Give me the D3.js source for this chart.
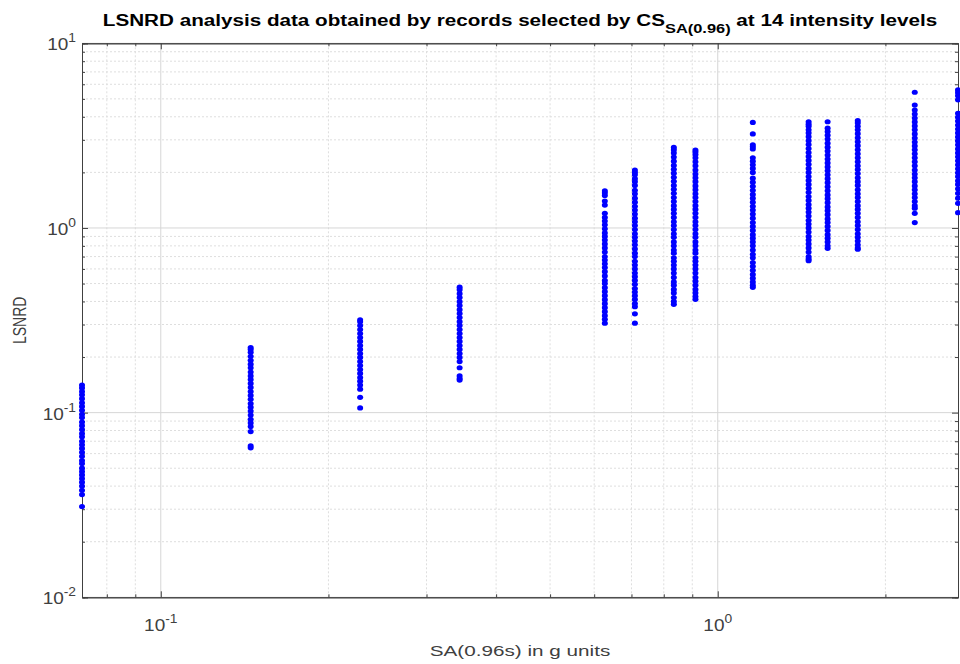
<!DOCTYPE html>
<html>
<head>
<meta charset="utf-8">
<script src="https://cdn.jsdelivr.net/npm/d3@7"></script>
<style>
body { margin: 0; background: #fff; }
text { font-family: "Liberation Sans", Arial, sans-serif; }
</style>
</head>
<body>
<svg id="chart" width="960" height="664"></svg>
<script>
// SA(0.96s) of each intensity level, g
const saLevels = [0.0722, 0.145, 0.228, 0.344, 0.627, 0.710, 0.834, 0.912, 1.156, 1.456, 1.575, 1.784, 2.258, 2.70];

// LSNRD values read per level
const lsnrd01 = [0.031, 0.036, 0.038, 0.040, 0.042, 0.044, 0.046, 0.048, 0.050, 0.053, 0.055, 0.058, 0.061, 0.064, 0.067, 0.070, 0.074, 0.077, 0.081, 0.085, 0.089, 0.094, 0.098, 0.103, 0.108, 0.113, 0.119, 0.125, 0.130, 0.136, 0.141];
const lsnrd02 = [0.0645, 0.066, 0.079, 0.084, 0.088, 0.092, 0.097, 0.102, 0.107, 0.112, 0.118, 0.124, 0.130, 0.137, 0.144, 0.151, 0.158, 0.166, 0.175, 0.183, 0.192, 0.202, 0.212, 0.220, 0.225];
const lsnrd03 = [0.106, 0.121, 0.134, 0.141, 0.148, 0.155, 0.163, 0.171, 0.180, 0.189, 0.199, 0.209, 0.220, 0.231, 0.243, 0.255, 0.268, 0.282, 0.296, 0.311, 0.318];
const lsnrd04 = [0.150, 0.153, 0.158, 0.175, 0.189, 0.199, 0.209, 0.220, 0.231, 0.243, 0.255, 0.268, 0.282, 0.296, 0.311, 0.327, 0.344, 0.361, 0.380, 0.399, 0.420, 0.441, 0.463, 0.478];
const lsnrd05 = [1.59, 1.55, 1.50, 1.40, 1.33, 1.20, 1.14, 1.09, 1.04, 0.99, 0.94, 0.90, 0.86, 0.82, 0.78, 0.74, 0.70, 0.67, 0.64, 0.61, 0.58, 0.55, 0.52, 0.50, 0.475, 0.452, 0.430, 0.409, 0.389, 0.370, 0.352, 0.335, 0.320, 0.305];
const lsnrd06 = [2.06, 2.00, 1.94, 1.85, 1.78, 1.70, 1.60, 1.53, 1.45, 1.38, 1.31, 1.25, 1.19, 1.13, 1.08, 1.03, 0.98, 0.93, 0.89, 0.85, 0.81, 0.77, 0.73, 0.70, 0.66, 0.63, 0.60, 0.57, 0.545, 0.52, 0.495, 0.47, 0.45, 0.43, 0.41, 0.39, 0.375, 0.343, 0.305];
const lsnrd07 = [2.73, 2.65, 2.55, 2.42, 2.30, 2.18, 2.08, 1.98, 1.88, 1.79, 1.70, 1.62, 1.54, 1.46, 1.39, 1.32, 1.26, 1.20, 1.14, 1.08, 1.03, 0.98, 0.93, 0.89, 0.84, 0.80, 0.76, 0.73, 0.69, 0.66, 0.63, 0.60, 0.57, 0.54, 0.51, 0.49, 0.465, 0.445, 0.42, 0.40, 0.386];
const lsnrd08 = [2.64, 2.58, 2.50, 2.40, 2.28, 2.17, 2.06, 1.96, 1.87, 1.78, 1.69, 1.61, 1.53, 1.46, 1.39, 1.32, 1.26, 1.20, 1.14, 1.08, 1.03, 0.98, 0.93, 0.89, 0.84, 0.80, 0.76, 0.73, 0.69, 0.66, 0.63, 0.60, 0.57, 0.54, 0.515, 0.49, 0.465, 0.445, 0.425, 0.411];
const lsnrd09 = [3.73, 3.23, 2.82, 2.75, 2.68, 2.40, 2.30, 2.20, 2.10, 2.00, 1.86, 1.77, 1.68, 1.60, 1.52, 1.45, 1.38, 1.31, 1.25, 1.19, 1.13, 1.07, 1.02, 0.97, 0.92, 0.88, 0.84, 0.80, 0.76, 0.72, 0.69, 0.65, 0.62, 0.59, 0.56, 0.535, 0.51, 0.49, 0.477];
const lsnrd10 = [3.76, 3.65, 3.55, 3.40, 3.27, 3.12, 2.97, 2.83, 2.69, 2.56, 2.44, 2.32, 2.21, 2.10, 2.00, 1.90, 1.81, 1.72, 1.64, 1.56, 1.48, 1.41, 1.34, 1.28, 1.22, 1.16, 1.10, 1.05, 1.00, 0.95, 0.90, 0.86, 0.82, 0.78, 0.74, 0.70, 0.68, 0.665];
const lsnrd11 = [3.76, 3.47, 3.33, 3.18, 3.03, 2.88, 2.74, 2.61, 2.48, 2.36, 2.25, 2.14, 2.04, 1.94, 1.85, 1.76, 1.67, 1.59, 1.51, 1.44, 1.37, 1.30, 1.24, 1.18, 1.12, 1.07, 1.02, 0.97, 0.92, 0.88, 0.84, 0.80, 0.776];
const lsnrd12 = [3.81, 3.70, 3.55, 3.40, 3.24, 3.08, 2.93, 2.79, 2.65, 2.52, 2.40, 2.28, 2.17, 2.07, 1.97, 1.87, 1.78, 1.70, 1.61, 1.53, 1.46, 1.39, 1.32, 1.26, 1.20, 1.14, 1.08, 1.03, 0.98, 0.93, 0.89, 0.85, 0.81, 0.78, 0.767];
const lsnrd13 = [5.43, 4.63, 4.35, 4.14, 3.94, 3.75, 3.57, 3.40, 3.23, 3.07, 2.92, 2.78, 2.65, 2.52, 2.40, 2.28, 2.17, 2.06, 1.96, 1.87, 1.78, 1.69, 1.61, 1.53, 1.46, 1.39, 1.32, 1.28, 1.20, 1.07];
const lsnrd14 = [5.59, 5.40, 5.20, 4.94, 4.18, 3.98, 3.79, 3.61, 3.43, 3.27, 3.11, 2.96, 2.82, 2.68, 2.55, 2.43, 2.31, 2.20, 2.09, 1.99, 1.90, 1.80, 1.72, 1.63, 1.54, 1.45, 1.36, 1.21];
const levelValues = [lsnrd01, lsnrd02, lsnrd03, lsnrd04, lsnrd05, lsnrd06, lsnrd07, lsnrd08, lsnrd09, lsnrd10, lsnrd11, lsnrd12, lsnrd13, lsnrd14];

const yDomain = [0.01, 10];

const margin = {top: 43.3, right: 2, bottom: 66.7, left: 82};
const width = 960 - margin.left - margin.right;
const height = 664 - margin.top - margin.bottom;

let points = [];
for (let i = 0; i < saLevels.length; i++) {
    levelValues[i].forEach(v => points.push({sa: saLevels[i], lsnrd: v}));
}

let svg = d3.select('#chart');
let plot = svg.append('g')
    .attr('transform', 'translate(' + margin.left + ',' + margin.top + ')');

let x = d3.scaleLog().domain(d3.extent(saLevels)).range([0, width]);
let y = d3.scaleLog().domain(yDomain).range([height, 0]);

let isMajor = d => Math.abs(Math.log10(d) - Math.round(Math.log10(d))) < 1e-9;
let xAll = x.ticks();
let yAll = y.ticks();
let xMaj = xAll.filter(isMajor), xMin = xAll.filter(d => !isMajor(d));
let yMaj = yAll.filter(isMajor), yMin = yAll.filter(d => !isMajor(d));

// grid
let grid = plot.append('g');
grid.append('g').selectAll('line').data(xMin).join('line')
    .attr('x1', d => x(d)).attr('x2', d => x(d)).attr('y1', 0).attr('y2', height)
    .attr('stroke', '#dedede').attr('stroke-dasharray', '2,2');
grid.append('g').selectAll('line').data(yMin).join('line')
    .attr('y1', d => y(d)).attr('y2', d => y(d)).attr('x1', 0).attr('x2', width)
    .attr('stroke', '#dedede').attr('stroke-dasharray', '2,2');
grid.append('g').selectAll('line').data(xMaj).join('line')
    .attr('x1', d => x(d)).attr('x2', d => x(d)).attr('y1', 0).attr('y2', height)
    .attr('stroke', '#d6d6d6');
grid.append('g').selectAll('line').data(yMaj).join('line')
    .attr('y1', d => y(d)).attr('y2', d => y(d)).attr('x1', 0).attr('x2', width)
    .attr('stroke', '#d6d6d6');

// axes, ticks pointing in like matlab
function drawAxis(axisFn, scale, ticks, size, transform) {
    let g = plot.append('g').attr('transform', transform)
        .call(axisFn(scale).tickValues(ticks).tickSize(size).tickFormat(''));
    g.select('.domain').attr('stroke', '#404040');
    g.selectAll('.tick line').attr('stroke', '#404040');
    return g;
}
drawAxis(d3.axisBottom, x, xMaj, -6, 'translate(0,' + height + ')');
drawAxis(d3.axisBottom, x, xMin, -3, 'translate(0,' + height + ')');
drawAxis(d3.axisTop, x, xMaj, -6, 'translate(0,0)');
drawAxis(d3.axisTop, x, xMin, -3, 'translate(0,0)');
drawAxis(d3.axisLeft, y, yMaj, -6, 'translate(0,0)');
drawAxis(d3.axisLeft, y, yMin, -3, 'translate(0,0)');
drawAxis(d3.axisRight, y, yMaj, -6, 'translate(' + width + ',0)');
drawAxis(d3.axisRight, y, yMin, -3, 'translate(' + width + ',0)');

// power-of-ten labels
function powLabel(sel) {
    sel.append('tspan').text('10');
    sel.append('tspan').attr('dy', -8).attr('font-size', 12).text(d => Math.round(Math.log10(d)));
}
plot.append('g').selectAll('g').data(xMaj).join('g')
    .attr('transform', d => 'translate(' + x(d) + ',' + (height + 34) + ') scale(1.15,1)')
    .append('text')
    .attr('text-anchor', 'middle').attr('font-size', 16.5).attr('fill', '#404040')
    .call(powLabel);
plot.append('g').selectAll('g').data(yMaj).join('g')
    .attr('transform', d => 'translate(-6,' + (y(d) + 7) + ') scale(1.15,1)')
    .append('text')
    .attr('text-anchor', 'end').attr('font-size', 16.5).attr('fill', '#404040')
    .call(powLabel);

// points
plot.append('g').selectAll('ellipse').data(points).join('ellipse')
    .attr('cx', d => x(d.sa))
    .attr('cy', d => y(d.lsnrd))
    .attr('rx', 3)
    .attr('ry', 2.6)
    .attr('fill', '#0000ff');

// labels (the source figure is stretched sideways)
svg.append('g')
    .attr('transform', 'translate(' + (margin.left + width / 2) + ',656) scale(1.38,1)')
    .append('text')
    .attr('text-anchor', 'middle').attr('font-size', 15).attr('fill', '#404040')
    .text('SA(0.96s) in g units');
svg.append('g')
    .attr('transform', 'translate(26,' + (margin.top + height / 2) + ') scale(1.35,1) rotate(-90)')
    .append('text')
    .attr('text-anchor', 'middle').attr('font-size', 14).attr('fill', '#404040')
    .text('LSNRD');

let title = svg.append('g')
    .attr('transform', 'translate(' + (margin.left + width / 2) + ',26) scale(1.215,1)')
    .append('text')
    .attr('text-anchor', 'middle').attr('font-size', 17).attr('font-weight', 'bold').attr('fill', '#000');
title.append('tspan').text('LSNRD analysis data obtained by records selected by CS');
title.append('tspan').attr('dy', 7).attr('font-size', 13.5).text('SA(0.96)');
title.append('tspan').attr('dy', -7).text(' at 14 intensity levels');
</script>
</body>
</html>
